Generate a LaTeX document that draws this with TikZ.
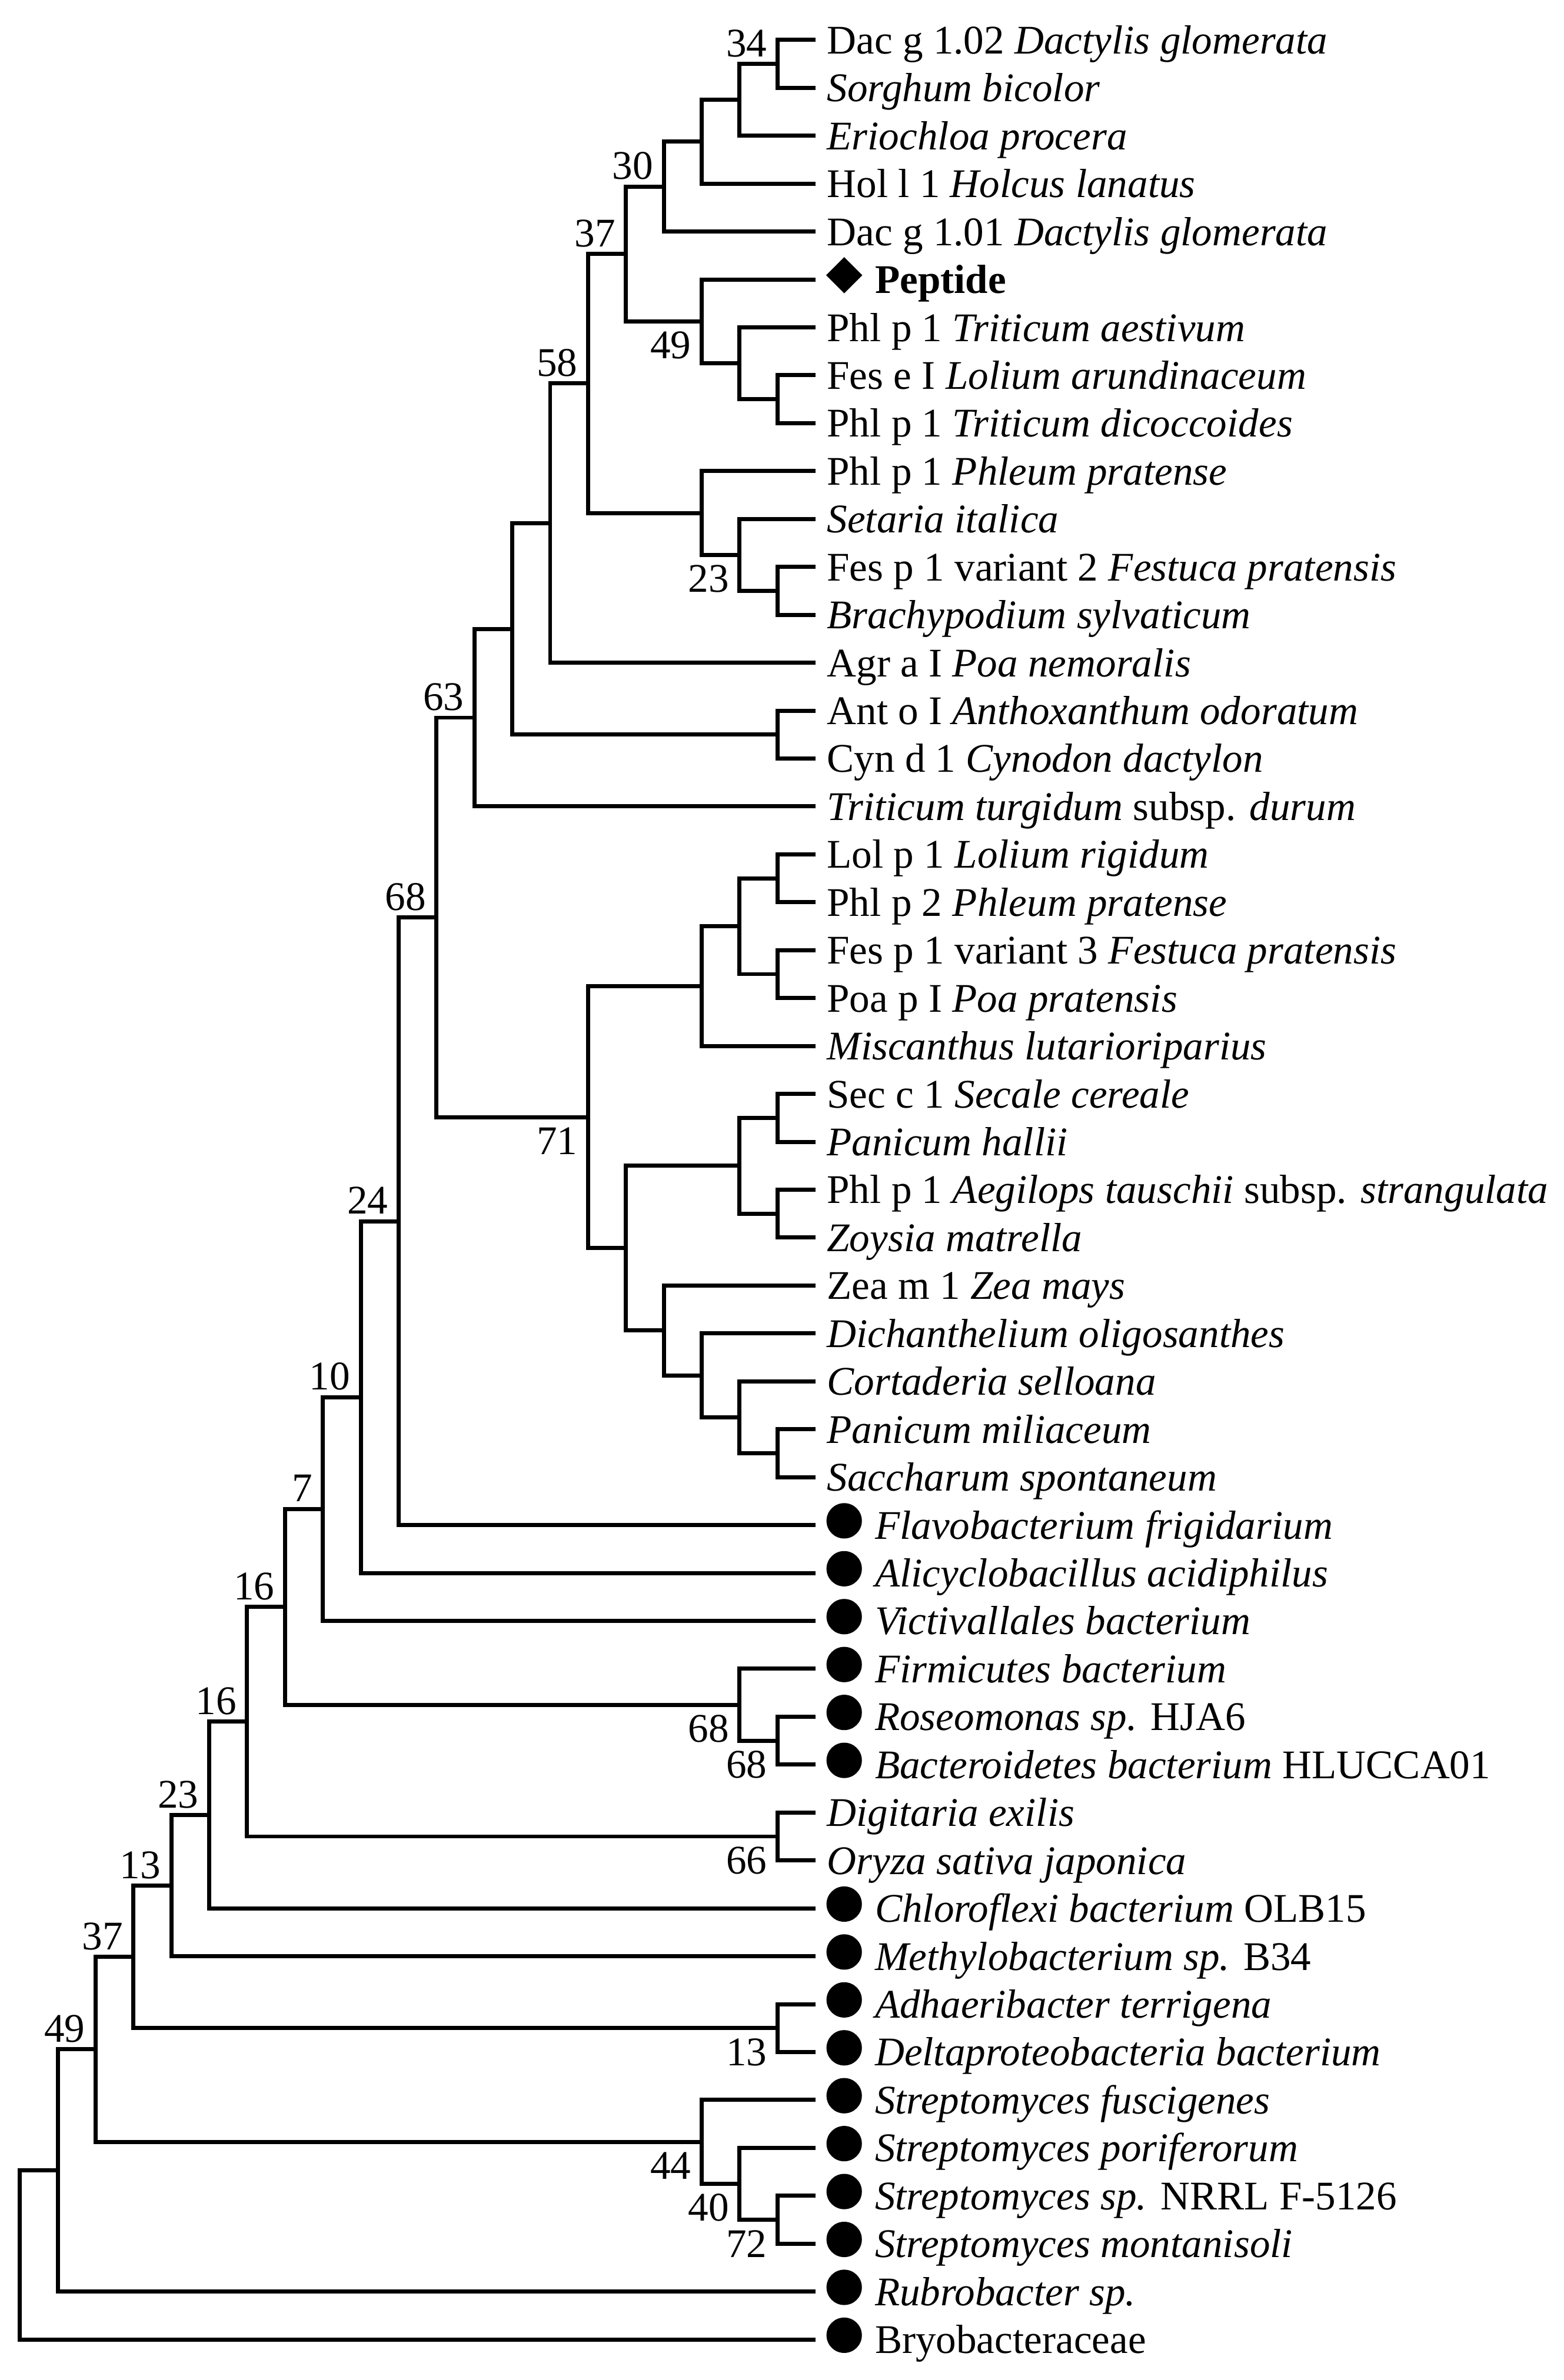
\documentclass[tikz,border=0pt]{standalone}
\usepackage{fontspec}
\setmainfont{Liberation Serif}
\usetikzlibrary{shapes.geometric}
\begin{document}
\begin{tikzpicture}[x=1pt, y=-31.5625pt,
  font=\fontsize{26.8pt}{32pt}\selectfont,
  br/.style={line width=2.7pt, line join=miter},
  leaf/.style={anchor=base west, inner sep=0pt, xshift=7.5pt, yshift=-9.1pt},
  mleaf/.style={anchor=base west, inner sep=0pt, xshift=39.1pt, yshift=-9.1pt},
  labup/.style={anchor=base east, inner sep=0pt, xshift=-6.8pt, yshift=4.8pt},
  labdn/.style={anchor=base east, inner sep=0pt, xshift=-6.8pt, yshift=-24.6pt},
  dotmark/.style={circle, fill=black, draw=none, inner sep=0pt, minimum size=23.3pt, xshift=19pt, yshift=2.8pt},
  diamark/.style={diamond, aspect=1, fill=black, draw=none, inner sep=0pt, minimum width=24pt, minimum height=24pt, xshift=19pt, yshift=2.8pt}]
\fill[white] (0,0.166733) rectangle (1030,49.8459);
\useasboundingbox (0,0.166733) rectangle (1030,49.8459);
% leaf ends
\foreach \i in {1,...,49} { \coordinate (l\i) at (537,\i); }
% internal nodes
\coordinate (a1) at (512.05,1.5);
\coordinate (a2) at (487.1,2.25);
\coordinate (a3) at (462.15,3.125);
\coordinate (a4) at (437.2,4.0625);
\coordinate (b1) at (512.05,8.5);
\coordinate (b2) at (487.1,7.75);
\coordinate (b3) at (462.15,6.875);
\coordinate (a5) at (412.25,5.46875);
\coordinate (c1) at (512.05,12.5);
\coordinate (c2) at (487.1,11.75);
\coordinate (c3) at (462.15,10.875);
\coordinate (a6) at (387.3,8.171875);
\coordinate (a7) at (362.35,11.0859375);
\coordinate (d1) at (512.05,15.5);
\coordinate (a8) at (337.4,13.29296875);
\coordinate (a9) at (312.45,15.146484375);
\coordinate (e1) at (512.05,18.5);
\coordinate (e2) at (512.05,20.5);
\coordinate (e3) at (487.1,19.5);
\coordinate (e4) at (462.15,20.75);
\coordinate (f1) at (512.05,23.5);
\coordinate (f2) at (512.05,25.5);
\coordinate (f3) at (487.1,24.5);
\coordinate (g1) at (512.05,30.5);
\coordinate (g2) at (487.1,29.75);
\coordinate (g3) at (462.15,28.875);
\coordinate (g4) at (437.2,27.9375);
\coordinate (f4) at (412.25,26.21875);
\coordinate (e5) at (387.3,23.484375);
\coordinate (a10) at (287.5,19.3154297);
\coordinate (a11) at (262.55,25.6577148);
\coordinate (a12) at (237.6,29.3288574);
\coordinate (a13) at (212.65,31.6644287);
\coordinate (h1) at (512.05,36.5);
\coordinate (h2) at (487.1,35.75);
\coordinate (a14) at (187.7,33.7072144);
\coordinate (i1) at (512.05,38.5);
\coordinate (a15) at (162.75,36.1036072);
\coordinate (a16) at (137.8,38.0518036);
\coordinate (a17) at (112.85,39.5259018);
\coordinate (j1) at (512.05,42.5);
\coordinate (a18) at (87.9,41.0129509);
\coordinate (k1) at (512.05,46.5);
\coordinate (k2) at (487.1,45.75);
\coordinate (k3) at (462.15,44.875);
\coordinate (a19) at (62.95,42.9439754);
\coordinate (a20) at (38,45.4719877);
\coordinate (a21) at (13.05,47.2359939);
% branches
\draw[br] (l1) -| (a1) |- (l2);
\draw[br] (a1) -| (a2) |- (l3);
\draw[br] (a2) -| (a3) |- (l4);
\draw[br] (a3) -| (a4) |- (l5);
\draw[br] (l8) -| (b1) |- (l9);
\draw[br] (l7) -| (b2) |- (b1);
\draw[br] (l6) -| (b3) |- (b2);
\draw[br] (a4) -| (a5) |- (b3);
\draw[br] (l12) -| (c1) |- (l13);
\draw[br] (l11) -| (c2) |- (c1);
\draw[br] (l10) -| (c3) |- (c2);
\draw[br] (a5) -| (a6) |- (c3);
\draw[br] (a6) -| (a7) |- (l14);
\draw[br] (l15) -| (d1) |- (l16);
\draw[br] (a7) -| (a8) |- (d1);
\draw[br] (a8) -| (a9) |- (l17);
\draw[br] (l18) -| (e1) |- (l19);
\draw[br] (l20) -| (e2) |- (l21);
\draw[br] (e1) -| (e3) |- (e2);
\draw[br] (e3) -| (e4) |- (l22);
\draw[br] (l23) -| (f1) |- (l24);
\draw[br] (l25) -| (f2) |- (l26);
\draw[br] (f1) -| (f3) |- (f2);
\draw[br] (l30) -| (g1) |- (l31);
\draw[br] (l29) -| (g2) |- (g1);
\draw[br] (l28) -| (g3) |- (g2);
\draw[br] (l27) -| (g4) |- (g3);
\draw[br] (f3) -| (f4) |- (g4);
\draw[br] (e4) -| (e5) |- (f4);
\draw[br] (a9) -| (a10) |- (e5);
\draw[br] (a10) -| (a11) |- (l32);
\draw[br] (a11) -| (a12) |- (l33);
\draw[br] (a12) -| (a13) |- (l34);
\draw[br] (l36) -| (h1) |- (l37);
\draw[br] (l35) -| (h2) |- (h1);
\draw[br] (a13) -| (a14) |- (h2);
\draw[br] (l38) -| (i1) |- (l39);
\draw[br] (a14) -| (a15) |- (i1);
\draw[br] (a15) -| (a16) |- (l40);
\draw[br] (a16) -| (a17) |- (l41);
\draw[br] (l42) -| (j1) |- (l43);
\draw[br] (a17) -| (a18) |- (j1);
\draw[br] (l46) -| (k1) |- (l47);
\draw[br] (l45) -| (k2) |- (k1);
\draw[br] (l44) -| (k3) |- (k2);
\draw[br] (a18) -| (a19) |- (k3);
\draw[br] (a19) -| (a20) |- (l48);
\draw[br] (a20) -| (a21) |- (l49);
% bootstrap labels
\node[labup] (v1) at (a1) {34};
\node[labup] (v2) at (a4) {30};
\node[labup] (v3) at (a5) {37};
\node[labdn] (v4) at (b3) {49};
\node[labup] (v5) at (a6) {58};
\node[labdn] (v6) at (c2) {23};
\node[labup] (v7) at (a9) {63};
\node[labdn] (v8) at (e5) {71};
\node[labup] (v9) at (a10) {68};
\node[labup] (v10) at (a11) {24};
\node[labup] (v11) at (a12) {10};
\node[labup] (v12) at (a13) {7};
\node[labdn] (v13) at (h2) {68};
\node[labdn] (v14) at (h1) {68};
\node[labup] (v15) at (a14) {16};
\node[labdn] (v16) at (i1) {66};
\node[labup] (v17) at (a15) {16};
\node[labup] (v18) at (a16) {23};
\node[labup] (v19) at (a17) {13};
\node[labdn] (v20) at (j1) {13};
\node[labup] (v21) at (a18) {37};
\node[labdn] (v22) at (k3) {44};
\node[labdn] (v23) at (k2) {40};
\node[labdn] (v24) at (k1) {72};
\node[labup] (v25) at (a19) {49};
% markers
\node[diamark] (m6) at (l6) {};
\foreach \i in {32,33,34,35,36,37,40,41,42,43,44,45,46,47,48,49} { \node[dotmark] (m\i) at (l\i) {}; }
% leaf names
\node[leaf] (t1) at (l1) {Dac g 1.02 \textit{Dactylis glomerata}};
\node[leaf] (t2) at (l2) {\textit{Sorghum bicolor}};
\node[leaf] (t3) at (l3) {\textit{Eriochloa procera}};
\node[leaf] (t4) at (l4) {Hol l 1 \textit{Holcus lanatus}};
\node[leaf] (t5) at (l5) {Dac g 1.01 \textit{Dactylis glomerata}};
\node[mleaf] (t6) at (l6) {\textbf{Peptide}};
\node[leaf] (t7) at (l7) {Phl p 1 \textit{Triticum aestivum}};
\node[leaf] (t8) at (l8) {Fes e I \textit{Lolium arundinaceum}};
\node[leaf] (t9) at (l9) {Phl p 1 \textit{Triticum dicoccoides}};
\node[leaf] (t10) at (l10) {Phl p 1 \textit{Phleum pratense}};
\node[leaf] (t11) at (l11) {\textit{Setaria italica}};
\node[leaf] (t12) at (l12) {Fes p 1 variant 2 \textit{Festuca pratensis}};
\node[leaf] (t13) at (l13) {\textit{Brachypodium sylvaticum}};
\node[leaf] (t14) at (l14) {Agr a I \textit{Poa nemoralis}};
\node[leaf] (t15) at (l15) {Ant o I \textit{Anthoxanthum odoratum}};
\node[leaf] (t16) at (l16) {Cyn d 1 \textit{Cynodon dactylon}};
\node[leaf] (t17) at (l17) {\textit{Triticum turgidum} subsp. \textit{durum}};
\node[leaf] (t18) at (l18) {Lol p 1 \textit{Lolium rigidum}};
\node[leaf] (t19) at (l19) {Phl p 2 \textit{Phleum pratense}};
\node[leaf] (t20) at (l20) {Fes p 1 variant 3 \textit{Festuca pratensis}};
\node[leaf] (t21) at (l21) {Poa p I \textit{Poa pratensis}};
\node[leaf] (t22) at (l22) {\textit{Miscanthus lutarioriparius}};
\node[leaf] (t23) at (l23) {Sec c 1 \textit{Secale cereale}};
\node[leaf] (t24) at (l24) {\textit{Panicum hallii}};
\node[leaf] (t25) at (l25) {Phl p 1 \textit{Aegilops tauschii} subsp. \textit{strangulata}};
\node[leaf] (t26) at (l26) {\textit{Zoysia matrella}};
\node[leaf] (t27) at (l27) {Zea m 1 \textit{Zea mays}};
\node[leaf] (t28) at (l28) {\textit{Dichanthelium oligosanthes}};
\node[leaf] (t29) at (l29) {\textit{Cortaderia selloana}};
\node[leaf] (t30) at (l30) {\textit{Panicum miliaceum}};
\node[leaf] (t31) at (l31) {\textit{Saccharum spontaneum}};
\node[mleaf] (t32) at (l32) {\textit{Flavobacterium frigidarium}};
\node[mleaf] (t33) at (l33) {\textit{Alicyclobacillus acidiphilus}};
\node[mleaf] (t34) at (l34) {\textit{Victivallales bacterium}};
\node[mleaf] (t35) at (l35) {\textit{Firmicutes bacterium}};
\node[mleaf] (t36) at (l36) {\textit{Roseomonas sp.} HJA6};
\node[mleaf] (t37) at (l37) {\textit{Bacteroidetes bacterium} HLUCCA01};
\node[leaf] (t38) at (l38) {\textit{Digitaria exilis}};
\node[leaf] (t39) at (l39) {\textit{Oryza sativa japonica}};
\node[mleaf] (t40) at (l40) {\textit{Chloroflexi bacterium} OLB15};
\node[mleaf] (t41) at (l41) {\textit{Methylobacterium sp.} B34};
\node[mleaf] (t42) at (l42) {\textit{Adhaeribacter terrigena}};
\node[mleaf] (t43) at (l43) {\textit{Deltaproteobacteria bacterium}};
\node[mleaf] (t44) at (l44) {\textit{Streptomyces fuscigenes}};
\node[mleaf] (t45) at (l45) {\textit{Streptomyces poriferorum}};
\node[mleaf] (t46) at (l46) {\textit{Streptomyces sp.} NRRL F-5126};
\node[mleaf] (t47) at (l47) {\textit{Streptomyces montanisoli}};
\node[mleaf] (t48) at (l48) {\textit{Rubrobacter sp.}};
\node[mleaf] (t49) at (l49) {Bryobacteraceae};
\end{tikzpicture}
\end{document}
